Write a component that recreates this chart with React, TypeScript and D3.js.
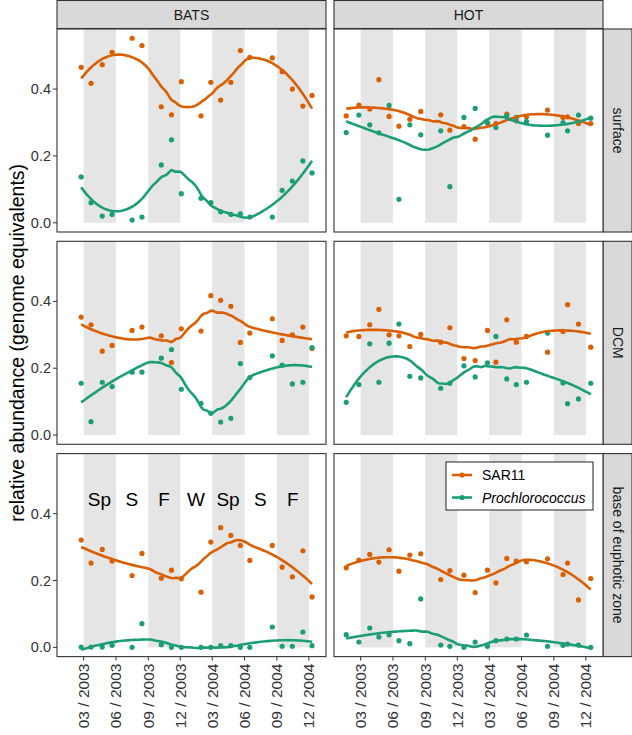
import React from "react";
import * as d3 from "d3";

// ---------- data ----------
const stations = ["BATS", "HOT"];
const depths = ["surface", "DCM", "base of euphotic zone"];
const taxa = ["SAR11", "Prochlorococcus"];
const taxonColors = ["#D95F02", "#1B9E77"];

const batsDates = [
  "2003-02-22", "2003-03-22", "2003-04-23", "2003-05-21", "2003-07-17", "2003-08-14",
  "2003-10-08", "2003-11-06", "2003-12-04", "2004-01-29", "2004-02-26", "2004-03-25",
  "2004-04-23", "2004-05-20", "2004-06-16", "2004-08-19", "2004-09-16", "2004-10-15",
  "2004-11-14", "2004-12-10",
];
const hotDates = [
  "2003-01-19", "2003-02-24", "2003-03-27", "2003-04-22", "2003-05-21", "2003-06-18",
  "2003-07-19", "2003-08-19", "2003-10-15", "2003-11-10", "2003-12-20", "2004-01-21",
  "2004-02-25", "2004-03-20", "2004-04-20", "2004-05-17", "2004-06-15", "2004-08-14",
  "2004-09-27", "2004-10-10", "2004-11-10", "2004-12-15",
];

const batsSurfaceSAR11 = [0.465, 0.417, 0.473, 0.510, 0.552, 0.530, 0.347, 0.323, 0.422, 0.320, 0.420, 0.367, 0.420, 0.515, 0.495, 0.493, 0.452, 0.400, 0.349, 0.381];
const batsSurfacePro = [0.137, 0.060, 0.020, 0.025, 0.008, 0.017, 0.173, 0.248, 0.087, 0.073, 0.060, 0.033, 0.025, 0.027, 0.017, 0.017, 0.097, 0.125, 0.185, 0.149];
const batsDcmSAR11 = [0.353, 0.330, 0.251, 0.268, 0.313, 0.323, 0.297, 0.217, 0.318, 0.311, 0.417, 0.403, 0.385, 0.277, 0.305, 0.348, 0.283, 0.300, 0.323, 0.259];
const batsDcmPro = [0.155, 0.040, 0.158, 0.145, 0.188, 0.188, 0.230, 0.256, 0.137, 0.095, 0.065, 0.039, 0.050, 0.214, 0.172, 0.237, 0.209, 0.153, 0.158, 0.262];
const batsBaseSAR11 = [0.321, 0.252, 0.293, 0.258, 0.215, 0.281, 0.207, 0.231, 0.205, 0.165, 0.315, 0.358, 0.335, 0.305, 0.260, 0.305, 0.240, 0.211, 0.289, 0.151];
const batsBasePro = [0.001, 0.001, 0.001, 0.006, 0.000, 0.071, 0.008, 0.000, 0.000, 0.000, 0.000, 0.005, 0.005, 0.000, 0.000, 0.061, 0.003, 0.003, 0.046, 0.005];

const hotSurfaceSAR11 = [0.320, 0.352, 0.340, 0.428, 0.318, 0.289, 0.310, 0.333, 0.323, 0.277, 0.288, 0.250, 0.298, 0.297, 0.325, 0.305, 0.317, 0.337, 0.315, 0.317, 0.297, 0.297];
const hotSurfacePro = [0.270, 0.322, 0.293, 0.269, 0.351, 0.070, 0.293, 0.263, 0.275, 0.108, 0.315, 0.342, 0.300, 0.285, 0.320, 0.315, 0.303, 0.262, 0.300, 0.275, 0.322, 0.313];
const hotDcmSAR11 = [0.297, 0.295, 0.330, 0.376, 0.300, 0.297, 0.265, 0.301, 0.278, 0.321, 0.229, 0.223, 0.313, 0.218, 0.345, 0.278, 0.295, 0.248, 0.310, 0.390, 0.332, 0.263];
const hotDcmPro = [0.098, 0.151, 0.273, 0.158, 0.275, 0.332, 0.176, 0.171, 0.140, 0.155, 0.207, 0.174, 0.216, 0.295, 0.168, 0.151, 0.158, 0.305, 0.156, 0.094, 0.108, 0.155];
const hotBaseSAR11 = [0.238, 0.261, 0.278, 0.255, 0.292, 0.228, 0.276, 0.280, 0.203, 0.230, 0.216, 0.164, 0.231, 0.193, 0.266, 0.258, 0.256, 0.265, 0.218, 0.252, 0.142, 0.206];
const hotBasePro = [0.038, 0.016, 0.058, 0.031, 0.038, 0.020, 0.011, 0.145, 0.007, 0.003, 0.000, 0.016, 0.003, 0.020, 0.025, 0.025, 0.037, 0.003, 0.006, 0.010, 0.007, 0.000];

const bandStarts = ["2003-03-01", "2003-09-01", "2004-03-01", "2004-09-01"];
const bandEnds = ["2003-06-01", "2003-12-01", "2004-06-01", "2004-12-01"];

const seasonLabels = ["Sp", "S", "F", "W", "Sp", "S", "F"];
const seasonDates = ["2003-04-15", "2003-07-16", "2003-10-16", "2004-01-15", "2004-04-15", "2004-07-16", "2004-10-16"];
const seasonY = 0.443;

const xTickDates = ["2003-03-01", "2003-06-01", "2003-09-01", "2003-12-01", "2004-03-01", "2004-06-01", "2004-09-01", "2004-12-01"];
const yTicks = [0.0, 0.2, 0.4];

// ---------- layout ----------
const W = 632, H = 735;
const panelX = [57, 334];
const panelW = 269;
const rowY = [29, 241.3, 453.6];
const panelH = 203;
const stripH = 28;
const stripW = 29;
const SPAN = 0.6;
const FONT = "'Liberation Sans', Arial, Helvetica, sans-serif";

const parse = d3.utcParse("%Y-%m-%d");
const dateSets: Record<string, Date[]> = {
  BATS: batsDates.map((d) => parse(d)!),
  HOT: hotDates.map((d) => parse(d)!),
};
const values: Record<string, number[][]> = {
  "BATS|surface": [batsSurfaceSAR11, batsSurfacePro],
  "BATS|DCM": [batsDcmSAR11, batsDcmPro],
  "BATS|base of euphotic zone": [batsBaseSAR11, batsBasePro],
  "HOT|surface": [hotSurfaceSAR11, hotSurfacePro],
  "HOT|DCM": [hotDcmSAR11, hotDcmPro],
  "HOT|base of euphotic zone": [hotBaseSAR11, hotBasePro],
};

function expand(ext: [number, number], f = 0.05): [number, number] {
  const r = ext[1] - ext[0];
  return [ext[0] - r * f, ext[1] + r * f];
}

const allDates = [...dateSets.BATS, ...dateSets.HOT].map((d) => +d);
const xDom = expand([d3.min(allDates)!, d3.max(allDates)!]);
const x = d3.scaleUtc().domain([new Date(xDom[0]), new Date(xDom[1])]).range([0, panelW]);
const allVals = Object.values(values).flat(2);
const yDom = expand([Math.min(0, d3.min(allVals)!), d3.max(allVals)!]);
const y = d3.scaleLinear().domain(yDom).range([panelH, 0]);

// local quadratic loess with tricube weights
function loess(xs: number[], ys: number[], span: number, evalXs: number[]): number[] {
  const n = xs.length;
  const q = Math.max(4, Math.floor(n * span));
  return evalXs.map((x0) => {
    const d = xs.map((xx) => Math.abs(xx - x0));
    const sorted = [...d].sort((a, b) => a - b);
    const h = sorted[q - 1] * 1.0001;
    const S = [0, 0, 0, 0, 0];
    const T = [0, 0, 0];
    for (let i = 0; i < n; i++) {
      const r = d[i] / h;
      if (r >= 1) continue;
      const w = Math.pow(1 - r * r * r, 3);
      const u = (xs[i] - x0) / h;
      let p = w;
      for (let k = 0; k < 5; k++) {
        S[k] += p;
        if (k < 3) T[k] += p * ys[i];
        p *= u;
      }
    }
    const A = [
      [S[0], S[1], S[2], T[0]],
      [S[1], S[2], S[3], T[1]],
      [S[2], S[3], S[4], T[2]],
    ];
    for (let c = 0; c < 3; c++) {
      let piv = c;
      for (let r = c + 1; r < 3; r++) if (Math.abs(A[r][c]) > Math.abs(A[piv][c])) piv = r;
      [A[c], A[piv]] = [A[piv], A[c]];
      if (Math.abs(A[c][c]) < 1e-12) return T[0] / S[0];
      for (let r = c + 1; r < 3; r++) {
        const f = A[r][c] / A[c][c];
        for (let k = c; k < 4; k++) A[r][k] -= f * A[c][k];
      }
    }
    const b = [0, 0, 0];
    for (let r = 2; r >= 0; r--) {
      let s = A[r][3];
      for (let k = r + 1; k < 3; k++) s -= A[r][k] * b[k];
      b[r] = s / A[r][r];
    }
    return b[0];
  });
}

const line = d3
  .line<[number, number]>()
  .x((d) => d[0])
  .y((d) => d[1])
  .curve(d3.curveLinear);

function Panel({ station, depth, si, di }: { station: string; depth: string; si: number; di: number }) {
  const dates = dateSets[station];
  const series = values[`${station}|${depth}`];
  const xsDays = dates.map((d) => +d / 86400000);
  const minD = d3.min(xsDays)!, maxD = d3.max(xsDays)!;
  const evalXs = d3.range(0, 101).map((i) => minD + ((maxD - minD) * i) / 100);
  const yTop = 0;
  return (
    <g transform={`translate(${panelX[si]},${rowY[di]})`}>
      <rect x={0} y={0} width={panelW} height={panelH} fill="#fff" />
      {bandStarts.map((s, i) => (
        <rect
          key={i}
          x={x(parse(s)!)}
          width={x(parse(bandEnds[i])!) - x(parse(s)!)}
          y={yTop}
          height={y(0) - yTop}
          fill="#E5E5E5"
        />
      ))}
      {series.map((vals, ti) =>
        vals.map((v, i) => (
          <circle key={`p${ti}-${i}`} cx={x(dates[i])} cy={y(v)} r={2.6} fill={taxonColors[ti]} />
        ))
      )}
      {series.map((vals, ti) => {
        const fit = loess(xsDays, vals, SPAN, evalXs);
        const pts: [number, number][] = evalXs.map((e, i) => [x(new Date(e * 86400000)), y(fit[i])]);
        return <path key={`l${ti}`} d={line(pts)!} fill="none" stroke={taxonColors[ti]} strokeWidth={2.6} />;
      })}
      {station === "BATS" && depth === "base of euphotic zone" &&
        seasonLabels.map((s, i) => (
          <text
            key={`s${i}`}
            x={x(parse(seasonDates[i])!)}
            y={y(seasonY)}
            textAnchor="middle"
            dominantBaseline="central"
            fontSize={19}
            fontFamily={FONT}
            fill="#000"
          >
            {s}
          </text>
        ))}
      <rect x={0} y={0} width={panelW} height={panelH} fill="none" stroke="#333" strokeWidth={1.1} />
      {si === 0 &&
        yTicks.map((t) => (
          <g key={`yt${t}`} transform={`translate(0,${y(t)})`}>
            <line x1={-4} x2={0} stroke="#333" strokeWidth={1} />
            <text x={-6} textAnchor="end" dominantBaseline="central" fontSize={14.5} fontFamily={FONT} fill="#333">
              {t.toFixed(1)}
            </text>
          </g>
        ))}
      {di === 2 &&
        xTickDates.map((t) => (
          <g key={`xt${t}`} transform={`translate(${x(parse(t)!)},${panelH})`}>
            <line y1={0} y2={4} stroke="#333" strokeWidth={1} />
            <text
              transform="translate(0,7) rotate(-90)"
              textAnchor="end"
              dy="0.35em"
              fontSize={15.5}
              fontFamily={FONT}
              fill="#333"
            >
              {d3.utcFormat("%m / %Y")(parse(t)!)}
            </text>
          </g>
        ))}
    </g>
  );
}

function Legend() {
  const lx = 446, ly = 462, lw = 147, lh = 48;
  return (
    <g>
      <rect x={lx} y={ly} width={lw} height={lh} fill="#fff" stroke="#222" strokeWidth={1} />
      {taxa.map((t, i) => {
        const cy = ly + 13 + i * 22.5;
        return (
          <g key={t}>
            <line x1={lx + 6} x2={lx + 26} y1={cy} y2={cy} stroke={taxonColors[i]} strokeWidth={2.6} />
            <circle cx={lx + 16} cy={cy} r={2.6} fill={taxonColors[i]} />
            <text
              x={lx + 36}
              y={cy}
              dominantBaseline="central"
              fontSize={14}
              fontFamily={FONT}
              fontStyle={i === 1 ? "italic" : "normal"}
              fill="#000"
            >
              {t}
            </text>
          </g>
        );
      })}
    </g>
  );
}

export default function App() {
  return (
    <svg
      width={W}
      height={H}
      viewBox={`0 0 ${W} ${H}`}
      style={{ position: "absolute", left: 0, top: 0, background: "#fff" }}
    >
      <rect width={W} height={H} fill="#fff" />
      {stations.map((s, si) => (
        <g key={`st${s}`}>
          <rect x={panelX[si]} y={0.5} width={panelW} height={stripH} fill="#D9D9D9" stroke="#333" strokeWidth={1.1} />
          <text
            x={panelX[si] + panelW / 2}
            y={0.5 + stripH / 2}
            textAnchor="middle"
            dominantBaseline="central"
            fontSize={14}
            fontFamily={FONT}
            fill="#1a1a1a"
          >
            {s}
          </text>
        </g>
      ))}
      {depths.map((d, di) => (
        <g key={`dp${d}`}>
          <rect
            x={panelX[1] + panelW}
            y={rowY[di]}
            width={stripW}
            height={panelH}
            fill="#D9D9D9"
            stroke="#333"
            strokeWidth={1.1}
          />
          <text
            transform={`translate(${panelX[1] + panelW + stripW / 2},${rowY[di] + panelH / 2}) rotate(90)`}
            textAnchor="middle"
            dominantBaseline="central"
            fontSize={14}
            fontFamily={FONT}
            fill="#1a1a1a"
          >
            {d}
          </text>
        </g>
      ))}
      {stations.map((s, si) =>
        depths.map((d, di) => <Panel key={`${s}${d}`} station={s} depth={d} si={si} di={di} />)
      )}
      <Legend />
      <text
        transform={`translate(17,${(rowY[0] + rowY[2] + panelH) / 2}) rotate(-90)`}
        textAnchor="middle"
        dominantBaseline="central"
        fontSize={19.5}
        fontFamily={FONT}
        fill="#000"
      >
        relative abundance (genome equivalents)
      </text>
    </svg>
  );
}
